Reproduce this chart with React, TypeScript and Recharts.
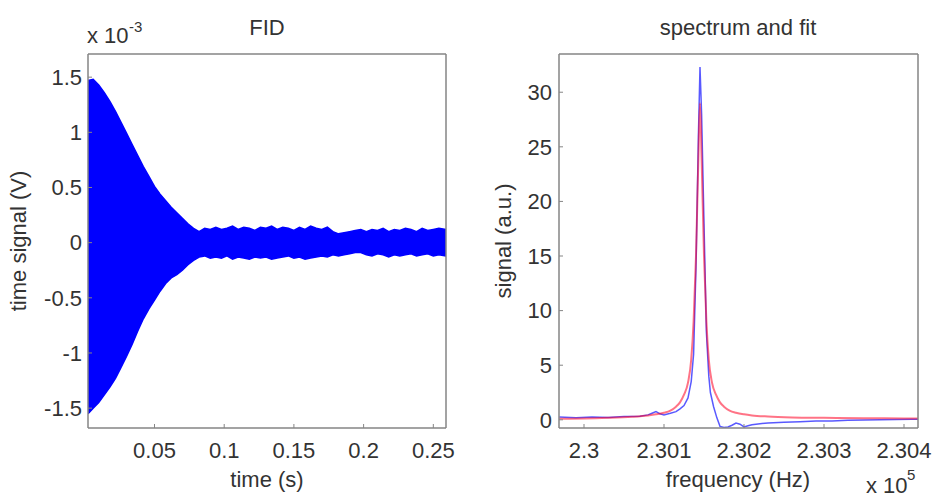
import React from 'react';
import { AreaChart, Area, LineChart, Line, XAxis, YAxis } from 'recharts';

// ---------- FID (left panel), voltage in units of 1e-3 V ----------
const fidTimes = [
  0.0023, 0.006, 0.010, 0.014, 0.018, 0.022, 0.026, 0.030, 0.034, 0.038,
  0.042, 0.046, 0.050, 0.054, 0.058, 0.062, 0.066, 0.070, 0.074, 0.078,
  0.082, 0.086, 0.090, 0.094, 0.098, 0.102, 0.106, 0.110, 0.114, 0.118,
  0.122, 0.126, 0.130, 0.134, 0.138, 0.142, 0.146, 0.150, 0.154, 0.158,
  0.162, 0.166, 0.170, 0.174, 0.178, 0.182, 0.186, 0.190, 0.194, 0.198,
  0.202, 0.206, 0.210, 0.214, 0.218, 0.222, 0.226, 0.230, 0.234, 0.238,
  0.242, 0.246, 0.250, 0.254, 0.2591,
];
const fidUpper = [
  1.47, 1.48, 1.43, 1.36, 1.28, 1.19, 1.09, 0.99, 0.89, 0.79,
  0.69, 0.60, 0.51, 0.44, 0.38, 0.32, 0.27, 0.22, 0.17, 0.13,
  0.10, 0.13, 0.12, 0.14, 0.12, 0.13, 0.15, 0.12, 0.14, 0.13,
  0.11, 0.14, 0.13, 0.15, 0.12, 0.14, 0.13, 0.11, 0.14, 0.12,
  0.15, 0.13, 0.12, 0.14, 0.10, 0.08, 0.09, 0.10, 0.11, 0.12,
  0.10, 0.12, 0.11, 0.13, 0.10, 0.12, 0.11, 0.13, 0.12, 0.10,
  0.13, 0.11, 0.12, 0.13, 0.12,
];
const fidLower = [
  -1.55, -1.50, -1.45, -1.38, -1.31, -1.23, -1.13, -1.03, -0.92, -0.80,
  -0.69, -0.60, -0.52, -0.44, -0.37, -0.32, -0.29, -0.25, -0.20, -0.16,
  -0.13, -0.12, -0.14, -0.13, -0.14, -0.12, -0.15, -0.13, -0.14, -0.15,
  -0.13, -0.14, -0.13, -0.15, -0.14, -0.13, -0.12, -0.14, -0.13, -0.15,
  -0.14, -0.13, -0.12, -0.13, -0.11, -0.12, -0.11, -0.10, -0.09, -0.09,
  -0.11, -0.12, -0.10, -0.11, -0.13, -0.11, -0.12, -0.11, -0.10, -0.12,
  -0.11, -0.10, -0.12, -0.11, -0.12,
];
const fidTimeTicks = [0.05, 0.1, 0.15, 0.2, 0.25];
const fidVoltTicks = [-1.5, -1, -0.5, 0, 0.5, 1, 1.5];

// ---------- Spectrum (right panel), frequency in units of 1e5 Hz ----------
const specFreq = [
  2.29969, 2.2999, 2.3001, 2.3003, 2.3005, 2.3007, 2.3008, 2.30085, 2.3009, 2.30095,
  2.3010, 2.30108, 2.30115, 2.3012, 2.30125, 2.3013, 2.30134, 2.30137, 2.3014, 2.30143,
  2.30145, 2.30147, 2.3015, 2.30153, 2.30156, 2.30158, 2.30162, 2.30166, 2.3017, 2.30175,
  2.3018, 2.30185, 2.3019, 2.30195, 2.3020, 2.30205, 2.3021, 2.3022, 2.3023, 2.3025,
  2.3027, 2.3029, 2.3031, 2.3033, 2.3035, 2.3037, 2.3039, 2.3041, 2.30418,
];
const specSignal = [
  0.25, 0.20, 0.25, 0.22, 0.30, 0.32, 0.45, 0.60, 0.75, 0.55,
  0.45, 0.60, 0.75, 1.0, 1.3, 2.0, 3.5, 6.0, 14, 26,
  32.3, 28, 18, 8, 4, 2.5, 1.2, 0.2, -0.6, -0.7,
  -0.65, -0.5, -0.3, -0.4, -0.65, -0.55, -0.45, -0.35, -0.3, -0.22,
  -0.18, -0.12, -0.1, -0.05, -0.02, 0.0, 0.02, 0.05, 0.05,
];
const fitFreq = [
  2.29969, 2.3000, 2.3003, 2.3006, 2.3008, 2.3009, 2.3010, 2.30108, 2.30115, 2.3012,
  2.30125, 2.3013, 2.30134, 2.30137, 2.3014, 2.30143, 2.30145, 2.30147, 2.3015, 2.30153,
  2.30156, 2.3016, 2.30165, 2.3017, 2.30175, 2.30182, 2.3019, 2.3020, 2.3021, 2.3023,
  2.3026, 2.3030, 2.3035, 2.3040, 2.30418,
];
const fitSignal = [
  0.10, 0.12, 0.18, 0.28, 0.40, 0.50, 0.65, 0.85, 1.2, 1.6,
  2.3, 3.4, 5.5, 9, 15, 24, 29, 24, 15, 9,
  5.5, 3.4, 2.3, 1.6, 1.2, 0.85, 0.65, 0.5, 0.4, 0.3,
  0.22, 0.18, 0.15, 0.13, 0.12,
];
const freqTicks = [2.3, 2.301, 2.302, 2.303, 2.304];
const signalTicks = [0, 5, 10, 15, 20, 25, 30];

const fidData = fidTimes.map((t, i) => ({ t, range: [fidLower[i], fidUpper[i]] }));
const specData = specFreq.map((f, i) => ({ f, v: specSignal[i] }));
const fitData = fitFreq.map((f, i) => ({ f, v: fitSignal[i] }));

const FONT = '"Liberation Sans", Arial, Helvetica, sans-serif';
const TXT = '#333333';
const FRAME = '#858585';
const tickStyle = { fill: TXT, fontSize: 22, fontFamily: FONT };
const axisLine = { stroke: FRAME, strokeWidth: 1.5 };
const tickLine = { stroke: FRAME, strokeWidth: 1 };

export default function App() {
  return (
    <div style={{ position: 'fixed', left: 0, top: 0, width: 934, height: 498, background: '#fff', overflow: 'hidden' }}>
      <div style={{ position: 'absolute', left: 0, top: 0 }}>
        <AreaChart width={470} height={498} data={fidData} margin={{ top: 44, right: 14, bottom: 30, left: 28 }}>
          <XAxis dataKey="t" type="number" domain={[0.0023, 0.2591]} allowDataOverflow ticks={fidTimeTicks}
            tickSize={-4} tickMargin={18} height={40} tick={tickStyle} axisLine={axisLine} tickLine={tickLine} />
          <XAxis xAxisId="top" orientation="top" dataKey="t" type="number" domain={[0.0023, 0.2591]} allowDataOverflow
            ticks={fidTimeTicks} tickSize={-4} height={10} tick={false} axisLine={axisLine} tickLine={tickLine} />
          <YAxis type="number" domain={[-1.68, 1.71]} allowDataOverflow ticks={fidVoltTicks}
            tickSize={-4} tickMargin={10} width={60} tick={tickStyle} axisLine={axisLine} tickLine={tickLine} />
          <YAxis yAxisId="right" orientation="right" type="number" domain={[-1.68, 1.71]} allowDataOverflow ticks={fidVoltTicks}
            tickSize={-4} width={10} tick={false} axisLine={axisLine} tickLine={tickLine} />
          <Area dataKey="range" type="linear" stroke="#0000ff" strokeWidth={1.5} fill="#0000ff" fillOpacity={1}
            isAnimationActive={false} dot={false} activeDot={false} />
        </AreaChart>
      </div>
      <div style={{ position: 'absolute', left: 470, top: 0 }}>
        <LineChart width={464} height={498} margin={{ top: 44, right: 6, bottom: 30, left: 29 }}>
          <XAxis dataKey="f" type="number" domain={[2.2996875, 2.304175]} allowDataOverflow ticks={freqTicks}
            tickSize={-4} tickMargin={18} height={40} tick={tickStyle} axisLine={axisLine} tickLine={tickLine} />
          <XAxis xAxisId="top" orientation="top" dataKey="f" type="number" domain={[2.2996875, 2.304175]} allowDataOverflow
            ticks={freqTicks} tickSize={-4} height={10} tick={false} axisLine={axisLine} tickLine={tickLine} />
          <YAxis type="number" domain={[-0.75, 33.5]} allowDataOverflow ticks={signalTicks}
            tickSize={-4} tickMargin={11} width={60} tick={tickStyle} axisLine={axisLine} tickLine={tickLine} />
          <YAxis yAxisId="right" orientation="right" type="number" domain={[-0.75, 33.5]} allowDataOverflow ticks={signalTicks}
            tickSize={-4} width={10} tick={false} axisLine={axisLine} tickLine={tickLine} />
          <Line data={specData} dataKey="v" type="linear" stroke="#0000ff" strokeOpacity={0.65} strokeWidth={1.5}
            dot={false} activeDot={false} isAnimationActive={false} />
          <Line data={fitData} dataKey="v" type="monotone" stroke="#ff0022" strokeOpacity={0.55} strokeWidth={2}
            dot={false} activeDot={false} isAnimationActive={false} />
        </LineChart>
      </div>
      <svg width={934} height={498} style={{ position: 'absolute', left: 0, top: 0, pointerEvents: 'none' }}
        fontFamily={FONT} fill={TXT}>
        <text x={267} y={35} fontSize={22} textAnchor="middle">FID</text>
        <text x={738} y={35} fontSize={22} textAnchor="middle">spectrum and fit</text>
        <text x={87} y={43} fontSize={22}>x 10</text>
        <text x={129} y={32} fontSize={15}>-3</text>
        <text x={267} y={487} fontSize={22} textAnchor="middle">time (s)</text>
        <text x={738} y={487} fontSize={22} textAnchor="middle">frequency (Hz)</text>
        <text x={866} y={493} fontSize={22}>x 10</text>
        <text x={907} y={480} fontSize={15}>5</text>
        <text transform="translate(26,241) rotate(-90)" fontSize={22} textAnchor="middle">time signal (V)</text>
        <text transform="translate(511,241) rotate(-90)" fontSize={22} textAnchor="middle">signal (a.u.)</text>
      </svg>
    </div>
  );
}
